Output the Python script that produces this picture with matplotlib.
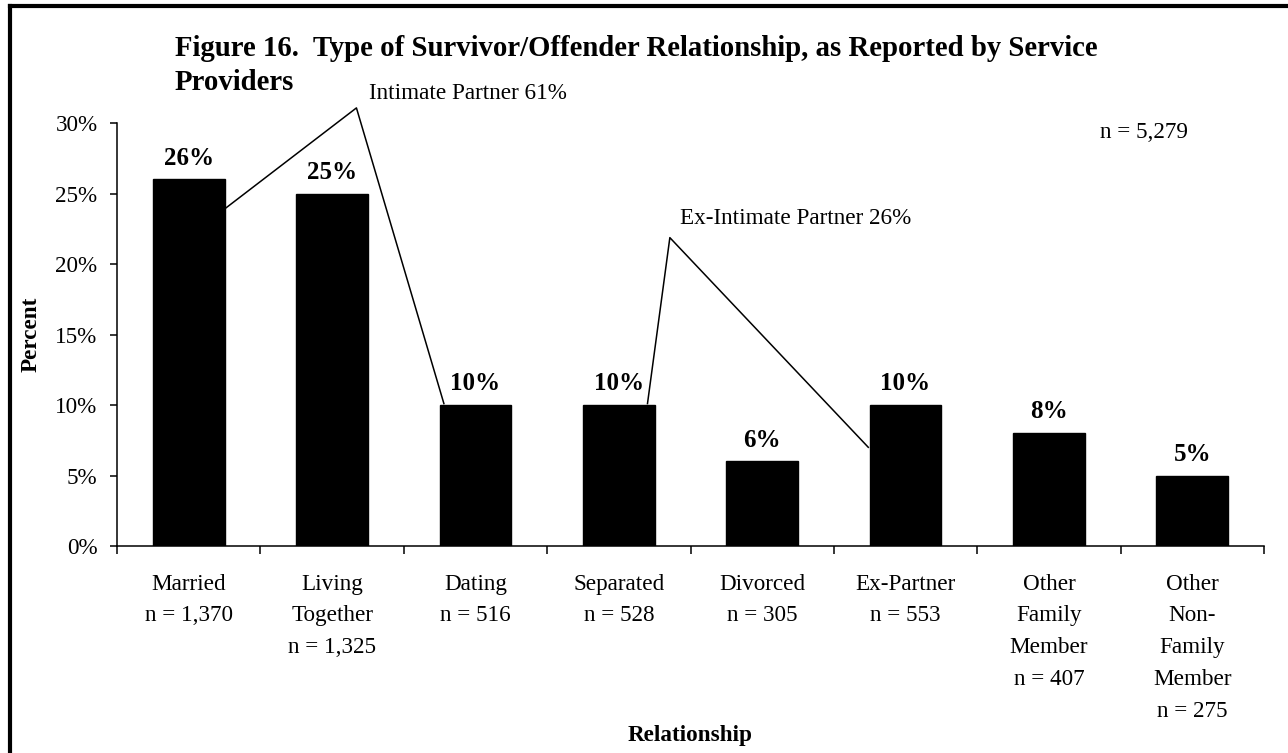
import matplotlib
matplotlib.use("Agg")
import matplotlib.pyplot as plt
from matplotlib.lines import Line2D

plt.rcParams['font.family'] = ['Liberation Serif', 'DejaVu Serif']

categories = ["Married\nn = 1,370", "Living\nTogether\nn = 1,325", "Dating\nn = 516",
              "Separated\nn = 528", "Divorced\nn = 305", "Ex-Partner\nn = 553",
              "Other\nFamily\nMember\nn = 407", "Other\nNon-\nFamily\nMember\nn = 275"]
values = [26, 25, 10, 10, 6, 10, 8, 5]
yticks = [0, 5, 10, 15, 20, 25, 30]
title_lines = ["Figure 16.  Type of Survivor/Offender Relationship, as Reported by Service",
               "Providers"]
group1_label = "Intimate Partner 61%"
group2_label = "Ex-Intimate Partner 26%"
total_label = "n = 5,279"

FS = 16.7
W, H = 1288, 753
fig = plt.figure(figsize=(W / 100, H / 100), dpi=100)
ax = fig.add_axes([117 / W, 1 - 546 / H, (1264 - 117) / W, (546 - 123) / H])

x = list(range(len(categories)))
bars = ax.bar(x, values, width=0.5, color='black', edgecolor='black')

ax.set_xlim(-0.5, len(categories) - 0.5)
ax.set_ylim(0, 30)
ax.set_yticks(yticks)
ax.set_yticklabels([f"{v}%" for v in yticks], fontsize=FS)
ax.tick_params(axis='y', direction='out', length=5, width=1.1, pad=9)

ax.set_xticks(x)
ax.set_xticklabels(categories, fontsize=FS, linespacing=1.67, va='top')
ax.tick_params(axis='x', which='major', length=0, pad=20)
ax.set_xticks([i - 0.5 for i in range(len(categories) + 1)], minor=True)
ax.tick_params(axis='x', which='minor', direction='out', length=6, width=1.1)

for s in ['top', 'right']:
    ax.spines[s].set_visible(False)
for s in ['left', 'bottom']:
    ax.spines[s].set_linewidth(1.1)

for b, v in zip(bars, values):
    ax.annotate(f"{v}%", (b.get_x() + b.get_width() / 2, v), xytext=(0, 7),
                textcoords='offset points', ha='center', va='bottom',
                fontsize=18, fontweight='bold')

# bracket lines for grouped totals
ax.plot([0.25, 1.17, 1.78], [23.9, 31.07, 10.1], color='black', lw=1.1, clip_on=False)
ax.text(1.26, 32.1, group1_label, fontsize=FS, ha='left', va='center', clip_on=False)
ax.plot([3.2, 3.356, 4.74], [10.1, 21.87, 7.0], color='black', lw=1.1, clip_on=False)
ax.text(3.43, 23.2, group2_label, fontsize=FS, ha='left', va='center')
ax.text(6.66, 29.3, total_label, fontsize=FS, ha='center', va='center')

ax.set_ylabel("Percent", fontsize=FS, fontweight='bold')
ax.yaxis.set_label_coords((42 - 117) / (1264 - 117), 0.5)
fig.text(690 / W, 1 - 736 / H, "Relationship", fontsize=FS, fontweight='bold',
         ha='center', va='center')

for i, line in enumerate(title_lines):
    fig.text(175 / W, 1 - (48 + 35 * i) / H, line, fontsize=20.7, fontweight='bold',
             ha='left', va='center')

# figure border (left and top edges)
fig.add_artist(Line2D([9.5 / W, 9.5 / W], [0, 1 - 5.5 / H], transform=fig.transFigure,
                      color='black', lw=3))
fig.add_artist(Line2D([9.5 / W, 1], [1 - 5.5 / H, 1 - 5.5 / H], transform=fig.transFigure,
                      color='black', lw=3))

fig.savefig("out.png", dpi=100)
